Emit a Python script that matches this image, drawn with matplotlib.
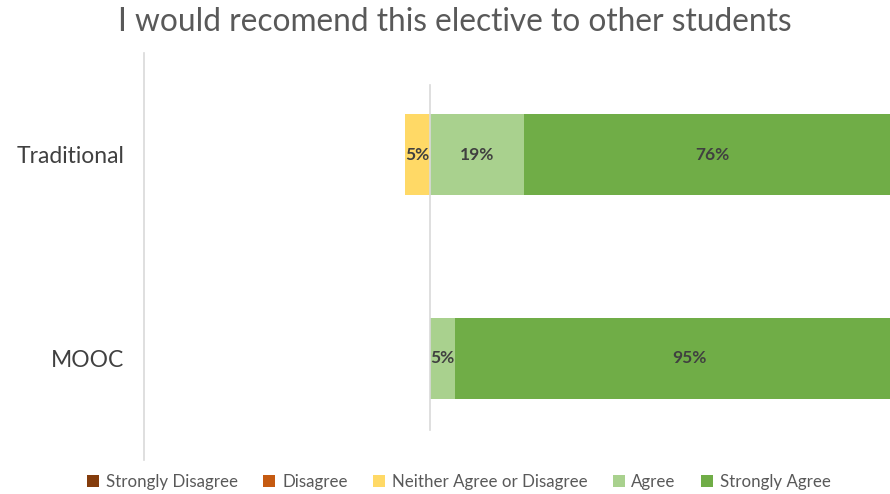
import matplotlib
matplotlib.use("Agg")
import matplotlib.pyplot as plt
from matplotlib.patches import Patch
import numpy as np

categories = ["MOOC", "Traditional"]
strongly_disagree = [0, 0]
disagree = [0, 0]
neutral = [0, 5]
agree = [5, 19]
strongly_agree = [95, 76]

series_names = ["Strongly Disagree", "Disagree", "Neither Agree or Disagree", "Agree", "Strongly Agree"]
colors = ["#843C0C", "#C55A11", "#FFD966", "#A9D18E", "#70AD47"]

plt.rcParams['font.family'] = ['Lato', 'DejaVu Sans']

W, H = 890, 494
fig = plt.figure(figsize=(W/100, H/100), dpi=100)
ax_left, ax_right = 144, 890
ax_top, ax_bot = 53, 460
ax = fig.add_axes([ax_left/W, 1 - ax_bot/H, (ax_right-ax_left)/W, (ax_bot-ax_top)/H])

y = np.arange(len(categories))
h = 0.40
neu = np.array(neutral); dis = np.array(disagree); sdis = np.array(strongly_disagree)
agr = np.array(agree); sagr = np.array(strongly_agree)

# negative side
ax.barh(y, -neu, left=0, height=h, color=colors[2])
ax.barh(y, -dis, left=-neu, height=h, color=colors[1])
ax.barh(y, -sdis, left=-neu-dis, height=h, color=colors[0])
# positive side
ax.barh(y, agr, left=0, height=h, color=colors[3])
ax.barh(y, sagr, left=agr, height=h, color=colors[4])

lab_kw = dict(ha='center', va='center', fontsize=12.5, fontweight='bold', color='#404040')
for i in range(len(categories)):
    if neu[i] > 0:
        ax.text(-neu[i]/2, y[i], f"{neu[i]}%", **lab_kw)
    if agr[i] > 0:
        ax.text(agr[i]/2, y[i], f"{agr[i]}%", **lab_kw)
    if sagr[i] > 0:
        ax.text(agr[i] + sagr[i]/2, y[i], f"{sagr[i]}%", **lab_kw)

px_per = 4.95
xmin = -(430 - ax_left) / px_per
xmax = (ax_right - 430) / px_per
ax.set_xlim(xmin, xmax)
ax.set_ylim(-0.5, 1.5)

ax.axvline(0, ymin=(ax_bot-430)/(ax_bot-ax_top), ymax=(ax_bot-85)/(ax_bot-ax_top), color='#D9D9D9', lw=1.2)

for s in ['top', 'right', 'bottom']:
    ax.spines[s].set_visible(False)
ax.spines['left'].set_color('#D9D9D9')
ax.spines['left'].set_linewidth(1.2)
ax.set_xticks([])
ax.set_yticks(y)
ax.set_yticklabels(categories, fontsize=16.5, color='#404040')
ax.tick_params(axis='y', length=0, pad=14)

fig.text(455/W, 1 - 22/H, "I would recomend this elective to other students", ha='center', va='center',
         fontsize=22.8, color='#595959')

handles = [Patch(facecolor=c, edgecolor='none') for c in colors]
fig.legend(handles, series_names, loc='center', bbox_to_anchor=(459/W, 1 - 482/H), ncol=5, frameon=False,
           fontsize=12.2, labelcolor='#595959', handlelength=0.7, handleheight=0.7, handletextpad=0.4,
           columnspacing=1.5)

fig.savefig("out.png", dpi=100)
